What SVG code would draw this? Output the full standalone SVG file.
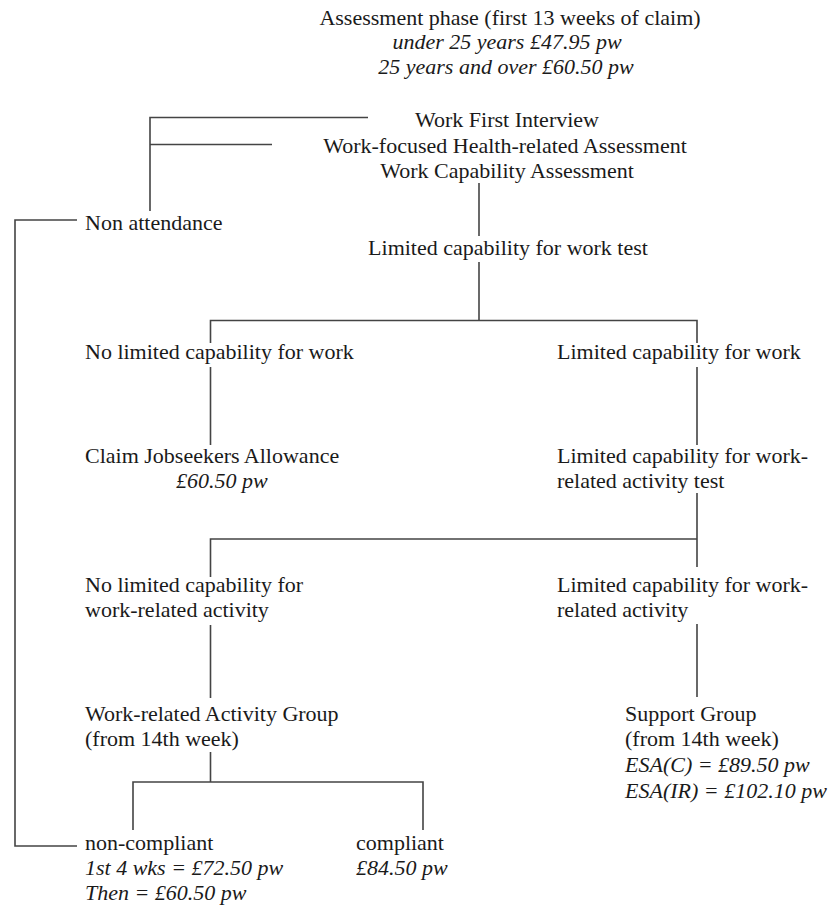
<svg xmlns="http://www.w3.org/2000/svg" width="833" height="908" viewBox="0 0 833 908">
<style>
text{font-family:"Liberation Serif","Times New Roman",serif;font-size:22px;fill:#1a1a1a}
.i{font-style:italic}
.c{text-anchor:middle}
.ln{fill:none;stroke:#444444;stroke-width:1.6}
</style>
<rect width="833" height="908" fill="#ffffff"/>
<g id="connectors">
<path class="ln" d="M150,211 V117.5 H368 M150,144.5 H272"/>
<path class="ln" d="M77,220 H15 V846 H77"/>
<path class="ln" d="M479,183 V236"/>
<path class="ln" d="M479,262 V320.5"/>
<path class="ln" d="M210.5,343 V320.5 H697 V343"/>
<path class="ln" d="M210.5,367 V445 M697,367 V445"/>
<path class="ln" d="M697,493 V567 M210.5,577 V539 H697"/>
<path class="ln" d="M210.5,625 V698 M697,624 V697"/>
<path class="ln" d="M210.5,752 V782 M133,830 V782 H423 V830"/>
</g>
<g id="assessment">
<text class="c" x="510" y="25">Assessment phase (first 13 weeks of claim)</text>
<text class="c i" x="507" y="49">under 25 years £47.95 pw</text>
<text class="c i" x="506" y="74">25 years and over £60.50 pw</text>
</g>
<g id="interviews">
<text class="c" x="507" y="127">Work First Interview</text>
<text class="c" x="505" y="153">Work-focused Health-related Assessment</text>
<text class="c" x="507" y="178">Work Capability Assessment</text>
</g>
<g id="non-attendance"><text x="85" y="230">Non attendance</text></g>
<g id="lcw-test"><text class="c" x="508" y="255">Limited capability for work test</text></g>
<g id="no-lcw"><text x="85" y="359">No limited capability for work</text></g>
<g id="lcw"><text x="557" y="359">Limited capability for work</text></g>
<g id="jsa">
<text x="85" y="463">Claim Jobseekers Allowance</text>
<text class="i" x="176" y="488">£60.50 pw</text>
</g>
<g id="lcwra-test">
<text x="557" y="463">Limited capability for work-</text>
<text x="557" y="488">related activity test</text>
</g>
<g id="no-lcwra">
<text x="85" y="592">No limited capability for</text>
<text x="85" y="617">work-related activity</text>
</g>
<g id="lcwra">
<text x="557" y="592">Limited capability for work-</text>
<text x="557" y="617">related activity</text>
</g>
<g id="wrag">
<text x="85" y="721">Work-related Activity Group</text>
<text x="85" y="746">(from 14th week)</text>
</g>
<g id="support">
<text x="625" y="721">Support Group</text>
<text x="625" y="746">(from 14th week)</text>
<text class="i" x="625" y="772">ESA(C) = £89.50 pw</text>
<text class="i" x="625" y="798">ESA(IR) = £102.10 pw</text>
</g>
<g id="non-compliant">
<text x="85" y="850">non-compliant</text>
<text class="i" x="85" y="875">1st 4 wks = £72.50 pw</text>
<text class="i" x="85" y="900">Then = £60.50 pw</text>
</g>
<g id="compliant">
<text x="356" y="850">compliant</text>
<text class="i" x="356" y="875">£84.50 pw</text>
</g>
</svg>
